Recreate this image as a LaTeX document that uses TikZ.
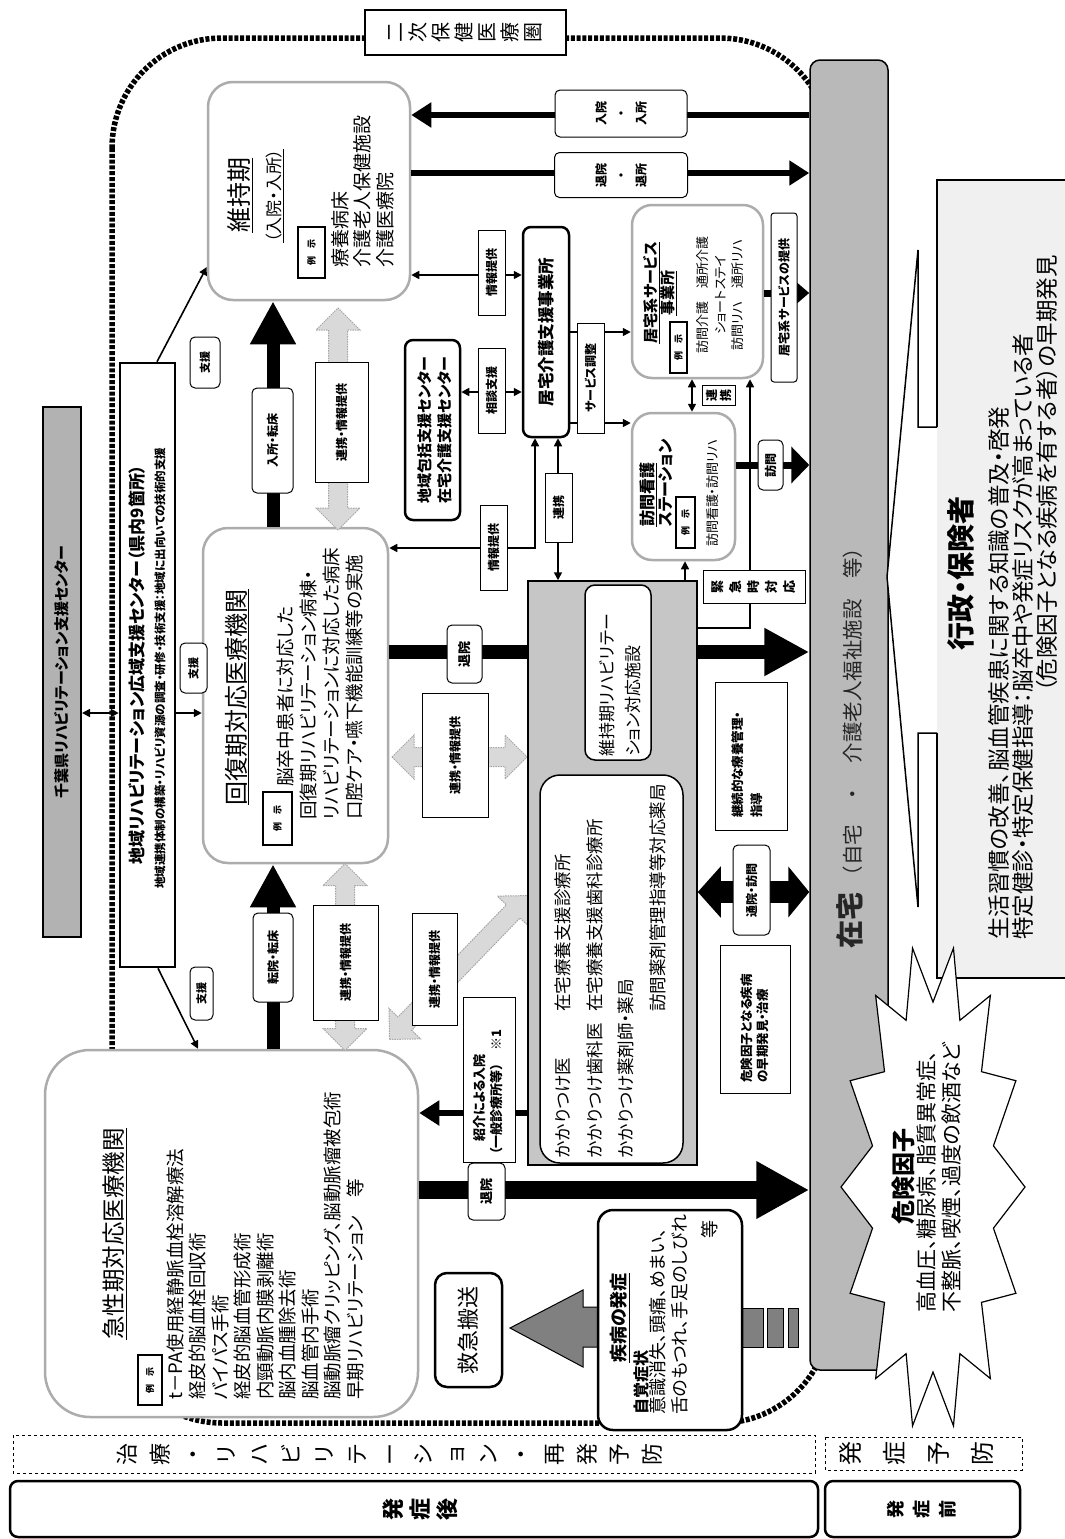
\documentclass[tikz,border=0pt]{standalone}
\usepackage{fontspec}
\setmainfont{Noto Sans CJK JP}[RawFeature=+palt]
\newfontfamily\jpmono{Noto Sans CJK JP}
\usetikzlibrary{arrows.meta}
\newcommand\fz[2]{\fontsize{#1}{#2}\selectfont}
\newcommand\gdarrow[4]{%
\begin{scope}[shift={(#1,#2)},rotate=#3]
\path[gar] ({-#4/2},0) -- ({-#4/2+22},-22) -- ({-#4/2+22},-9.5) -- ({#4/2-22},-9.5) -- ({#4/2-22},-22) -- ({#4/2},0) -- ({#4/2-22},22) -- ({#4/2-22},9.5) -- ({-#4/2+22},9.5) -- ({-#4/2+22},22) -- cycle;
\end{scope}}
\tikzset{
 box/.style={draw,fill=white,line width=1.2pt,align=center},
 gbox/.style={draw=gray!65,fill=white,line width=2.5pt},
 lab/.style={draw,fill=white,line width=1pt,align=center,font=\fz{12}{14}\bfseries},
 rlab/.style={lab,rounded corners=5pt},
 rei/.style={draw,fill=white,line width=1.2pt,font=\fz{9}{10}\bfseries},
 txt/.style={anchor=west,align=left,inner sep=0pt},
 con/.style={line width=1.6pt,-{Triangle[length=8pt,width=8pt]}},
 conb/.style={line width=1.6pt,{Triangle[length=8pt,width=8pt]}-{Triangle[length=8pt,width=8pt]}},
 mid/.style={line width=6pt,-{Triangle[length=20pt,width=24pt]}},
 beads/.style={line width=5.5pt,dash pattern=on 4pt off 1.8pt},
 gar/.style={fill=gray!30,draw=gray!70,line width=1pt,dash pattern=on 1.5pt off 1pt}
}
\begin{document}
\begin{tikzpicture}[x=1pt,y=-1pt,every node/.append style={rotate=90,inner sep=0.5pt}]
\useasboundingbox (0,0) rectangle (1065,1539);
\fill[white] (0,0) rectangle (1065,1539);

% boundary of secondary medical area
\draw[beads,rounded corners=110pt] (112,38) rectangle (830,1423);

% bottom row (left column of the original)
\node[box,rounded corners=8pt,line width=2.5pt,minimum width=56pt,minimum height=808pt] (post) at (414,1509) {};
\node[font=\jpmono\fz{22}{27}\bfseries,align=center] (postT) at (420,1509) {発\\症\\後};
\node[box,dashed,line width=1pt,minimum width=38pt,minimum height=802pt] (treat) at (414,1454) {};
\node[font=\jpmono\fz{22}{32.8},align=center] (treatT) at (390,1454) {治\\療\\・\\リ\\ハ\\ビ\\リ\\テ\\ー\\シ\\ョ\\ン\\・\\再\\発\\予\\防};
\node[box,rounded corners=8pt,line width=2.5pt,minimum width=56pt,minimum height=195pt] (pre) at (922.5,1509) {};
\node[font=\jpmono\fz{18}{26}\bfseries,align=center] (preT) at (922,1509) {発\\症\\前};
\node[box,dashed,line width=1pt,minimum width=33pt,minimum height=197pt] (prev) at (923.5,1453.5) {};
\node[font=\jpmono\fz{24}{44},align=center] (prevT) at (916,1453.5) {発\\症\\予\\防};

% label of the area
\node[box,line width=1.2pt,minimum width=45pt,minimum height=201pt] (niji) at (465.5,32.5) {};
\node[font=\jpmono\fz{20}{23},align=center] (nijiT) at (465,32.5) {二\\次\\保\\健\\医\\療\\圏};

% prefecture / region centres
\node[box,fill=gray!60,line width=2pt,minimum width=530pt,minimum height=38pt,font=\fz{15}{17}\bfseries] (chiba) at (62,672) {千葉県リハビリテーション支援センター};
\node[box,line width=2.5pt,minimum width=604pt,minimum height=55pt] (region) at (147.5,665) {};
\node[font=\fz{17}{20}\bfseries] (regT1) at (137,665) {地域リハビリテーション広域支援センター（県内9箇所）};
\node[font=\fz{11.5}{13}\bfseries] (regT2) at (160,668) {地域連携体制の構築・リハビリ資源の調査・研修・技術支援：地域に出向いての技術的支援};

% maintenance-phase institutions
\node[gbox,rounded corners=25pt,minimum width=218pt,minimum height=202pt] (ijiki) at (309,191) {};
\node[font=\fz{25}{28}] (ijikiT) at (240,195) {\underline{維持期}};
\node[font=\fz{17}{20}] (ijikiS) at (275,196) {\underline{（入院・入所）}};
\node[rei,minimum width=51pt,minimum height=27pt] (rei1) at (311.5,252.5) {例\hspace{8pt}示};
\node[txt,font=\fz{19}{22.5}] (ijikiL) at (362.5,268) {療養病床\\介護老人保健施設\\介護医療院};

% recovery-phase institutions
\node[gbox,rounded corners=25pt,minimum width=335pt,minimum height=185pt] (kaifuku) at (295.5,695.5) {};
\node[font=\fz{24}{27}] (kaiT) at (237,697) {\underline{回復期対応医療機関}};
\node[rei,minimum width=53pt,minimum height=29pt] (rei2) at (277.5,818.5) {例\hspace{8pt}示};
\node[txt,font=\fz{18.5}{23.3}] (kaiL) at (320,820) {\hspace*{33pt}脳卒中患者に対応した\\回復期リハビリテーション病棟・\\リハビリテーションに対応した病床\\口腔ケア・嚥下機能訓練等の実施};

% acute-phase institutions
\node[gbox,rounded corners=45pt,minimum width=367pt,minimum height=373pt] (kyusei) at (231.5,1233.5) {};
\node[font=\fz{23.5}{26}] (kyuT) at (115,1234) {\underline{急性期対応医療機関}};
\node[rei,minimum width=50pt,minimum height=24pt] (rei5) at (150,1380) {例\hspace{8pt}示};
\node[txt,font=\fz{18.5}{22.5}] (kyuL) at (265,1400) {t－PA使用経静脈血栓溶解療法\\経皮的脳血栓回収術\\バイパス手術\\経皮的脳血管形成術\\内頸動脈内膜剥離術\\脳内血腫除去術\\脳血管内手術\\脳動脈瘤クリッピング、脳動脈瘤被包術\\早期リハビリテーション　等};

% home bar
\node[draw,fill=gray!55,rounded corners=10pt,line width=1.5pt,minimum width=1310pt,minimum height=78pt] (bar) at (849,715) {};
\node[font=\jpmono\fz{20.5}{22},text=black!85] (barT) at (850,743) {{\fz{28}{30}\bfseries 在宅}\hspace{6pt}（自宅　・　介護老人福祉施設　等）};

% support arrows from the regional centre
\draw[conb] (chiba.south |- 0,713) -- (region.north |- 0,713);
\draw[con] (region.south |- 0,713) -- (kaifuku.north |- 0,713);
\draw[con] ([xshift=9.5pt]region.east) -- (ijiki.north |- 0,267);
\draw[con] ([xshift=10.5pt]region.west) -- (kyusei.east -| 198,0);
\node[rlab,font=\fz{11}{13}\bfseries,minimum width=51pt,minimum height=30pt] (s1) at (205,362.5) {支援};
\node[rlab,font=\fz{11}{13}\bfseries,minimum width=50pt,minimum height=27pt] (s2) at (193.5,668) {支援};
\node[rlab,font=\fz{11}{13}\bfseries,minimum width=53pt,minimum height=23pt] (s3) at (201.5,993.5) {支援};

% transfers between phases
\draw[line width=13pt,-{Triangle[length=43pt,width=43pt]}] (kyusei.east -| 273,0) -- (kaifuku.west -| 273,0);
\draw[line width=13pt,-{Triangle[length=43pt,width=43pt]}] (kaifuku.east -| 273,0) -- (ijiki.west -| 273,0);
\node[rlab,minimum width=89pt,minimum height=40pt] (tenin) at (273,957.5) {転院・転床};
\node[rlab,minimum width=105pt,minimum height=41pt] (nyusho) at (272.5,440.5) {入所・転床};

% cooperation arrows
\gdarrow{338}{419}{90}{222}
\gdarrow{345}{957}{90}{187}
\gdarrow{459.5}{757}{0}{135}
\gdarrow{459}{967.5}{46}{200}
\node[lab,minimum width=120pt,minimum height=53pt] (ren1) at (341.5,422) {連携・情報提供};
\node[lab,minimum width=115pt,minimum height=65pt] (ren2) at (345.5,962.5) {連携・情報提供};
\node[lab,minimum width=124pt,minimum height=66pt] (ren3) at (455,755) {連携・情報提供};
\node[lab,minimum width=112pt,minimum height=45pt] (ren4) at (434.5,969) {連携・情報提供};

% admission / discharge with maintenance phase
\draw[mid] (bar.north |- 0,115) -- (ijiki.south |- 0,115);
\draw[mid] (ijiki.south |- 0,173) -- (bar.north |- 0,173);
\node[rlab,minimum width=47pt,minimum height=132pt,font=\jpmono\fz{12}{20}\bfseries] (nyuin) at (621,113.5) {入院\\・\\入所};
\node[rlab,minimum width=45pt,minimum height=133pt,font=\jpmono\fz{12}{20}\bfseries] (taiin) at (621,175) {退院\\・\\退所};

% discharges to home
\draw[line width=14pt,-{Triangle[length=45pt,width=45pt]}] (kaifuku.south |- 0,652) -- (bar.north |- 0,652);
\draw[line width=18pt,-{Triangle[length=53pt,width=54pt]}] (kyusei.south |- 0,1190) -- (bar.north |- 0,1190);
\node[rlab,font=\fz{13}{15}\bfseries,minimum width=58pt,minimum height=35pt] (tai1) at (464.5,654) {退院};
\node[rlab,font=\fz{13}{15}\bfseries,minimum width=57pt,minimum height=37pt] (tai2) at (486.5,1191.5) {退院};

% community care container
\node[box,fill=gray!45,line width=1.5pt,minimum width=584pt,minimum height=169pt] (grayc) at (612.5,873) {};
\node[box,rounded corners=10pt,line width=1.5pt,minimum width=175pt,minimum height=66pt] (ijiri) at (618,672.5) {};
\node[txt,font=\fz{17}{26}] (ijiriT) at (620,757) {維持期リハビリテー\\ション対応施設};
\node[box,rounded corners=20pt,line width=1.5pt,minimum width=388pt,minimum height=143pt] (kakari) at (611.5,969) {};
\node[txt,font=\fz{17.5}{31.7}] (kakT) at (610.5,1158) {\makebox[146pt][l]{かかりつけ医}在宅療養支援診療所\\\makebox[146pt][l]{かかりつけ歯科医}在宅療養支援歯科診療所\\かかりつけ薬剤師・薬局\\\hspace*{146pt}訪問薬剤管理指導等対応薬局};

% referral admission
\draw[mid] (grayc.north |- 0,1113) -- (kyusei.south |- 0,1113);
\node[lab,minimum width=165pt,minimum height=52pt] (shokai) at (489,1079.5) {};
\node[txt,font=\fz{13}{17}\bfseries] (shokaiT) at (488.5,1155) {\hspace*{13pt}紹介による入院\\（一般診療所等）　※1};

% home visits
\draw[line width=22pt,{Triangle[length=23pt,width=50pt]}-{Triangle[length=21pt,width=50pt]}] (grayc.south |- 0,892) -- (bar.north |- 0,892);
\node[rlab,font=\fz{12}{14}\bfseries,minimum width=90pt,minimum height=37pt] (tsuin) at (751.5,890) {通院・訪問};
\node[lab,minimum width=148pt,minimum height=72pt] (keizoku) at (751,756) {};
\node[txt,font=\fz{12.5}{19}\bfseries] (keizokuT) at (747.5,818) {継続的な療養管理・\\指導};
\node[lab,minimum width=148pt,minimum height=70pt] (hakken) at (755,1019) {};
\node[txt,font=\fz{12.5}{16}\bfseries] (hakkenT) at (755,1083) {危険因子となる疾病\\の早期発見・治療};

% care managers
\node[box,rounded corners=8pt,line width=2.5pt,minimum width=210pt,minimum height=46pt,font=\fz{16.5}{18}\bfseries] (kyotaku) at (546,332) {居宅介護支援事業所};
\node[box,rounded corners=8pt,line width=2.5pt,minimum width=180pt,minimum height=55pt] (houkatsu) at (432.5,430) {};
\node[font=\fz{15}{20}\bfseries,align=left] (houkT) at (435,430) {地域包括支援センター\\在宅介護支援センター};

% home service providers
\node[gbox,rounded corners=20pt,minimum width=173pt,minimum height=131pt] (kyosvc) at (697.5,291.5) {};
\node[font=\fz{15}{16}\bfseries,align=center] (kyosvcT) at (660,293) {\underline{居宅系サービス}\\\underline{事業所}};
\node[rei,minimum width=51pt,minimum height=17pt] (rei3) at (678.5,347.5) {例\hspace{8pt}示};
\node[font=\fz{13}{17.5},align=center] (kyosvcL) at (720.5,295) {訪問介護　通所介護\\ショートステイ\\訪問リハ　通所リハ};
\node[gbox,rounded corners=20pt,minimum width=147pt,minimum height=103pt] (houkan) at (683.5,486.5) {};
\node[txt,font=\fz{16}{18}\bfseries] (houkanT) at (656,527) {\underline{訪問看護}\\ステーション};
\node[rei,minimum width=51pt,minimum height=19pt] (rei4) at (685.5,522.5) {例\hspace{8pt}示};
\node[txt,font=\fz{13}{15}] (houkanL) at (713,547) {訪問看護・訪問リハ};

% connectors among care managers and providers
\draw[conb] (houkatsu.south |- 0,392) -- (kyotaku.north |- 0,392);
\draw[conb] (ijiki.south |- 0,275) -- (kyotaku.north |- 0,275);
\draw[conb] (kaifuku.south |- 0,548) -| (kyotaku.west -| 535,0);
\draw[conb] (kyotaku.west -| 558,0) -- (grayc.east -| 558,0);
\draw[con] (kyotaku.south |- 0,332) -- (kyosvc.north |- 0,332);
\draw[con] (kyotaku.south |- 0,423) -- (houkan.north |- 0,423);
\draw[conb] (kyosvc.west -| 692,0) -- (houkan.east -| 692,0);
\draw[con] (grayc.south |- 0,628) -| (kyosvc.west -| 750,0);
\draw[con] (grayc.east -| 685,0) -- (houkan.west -| 685,0);
\draw[line width=7pt,-{Triangle[length=20pt,width=33pt]}] (kyosvc.south |- 0,293) -- (bar.north |- 0,293);
\draw[line width=7pt,-{Triangle[length=18pt,width=36pt]}] (houkan.south |- 0,465) -- (bar.north |- 0,465);
\node[lab,minimum width=85pt,minimum height=27pt] (sodan) at (491.5,390.5) {相談支援};
\node[lab,minimum width=85pt,minimum height=27pt] (joho1) at (491.5,272.5) {情報提供};
\node[lab,minimum width=85pt,minimum height=27pt] (joho2) at (493.5,547.5) {情報提供};
\node[lab,minimum width=69pt,minimum height=27pt] (renkei1) at (558.5,507.5) {連携};
\node[lab,minimum width=110pt,minimum height=27pt] (svc) at (590.5,378) {サービス調整};
\node[lab,font=\jpmono\fz{12}{14}\bfseries,minimum width=20pt,minimum height=33pt] (renkei2) at (718.5,395) {連\\携};
\node[lab,rounded corners=3pt,minimum width=169pt,minimum height=26pt] (teikyo) at (784,297.5) {居宅系サービスの提供};
\node[rlab,minimum width=50pt,minimum height=25pt] (homon) at (770.5,465) {訪問};
\node[lab,font=\jpmono\fz{13}{18}\bfseries,minimum width=33pt,minimum height=102pt] (kinkyu) at (754,586.5) {緊\\急\\時\\対\\応};

% administration box with pointer
\path[fill=gray!12,draw,line width=1.5pt] (937,427) -- (937,180) -- (1080,180) -- (1080,978) -- (937,978) -- (937,733);
\path[fill=white,draw,line width=1.5pt] (937,427) -- (918,427) -- (918,250) -- (887,577) -- (918,907) -- (918,733) -- (937,733);
\node[font=\fz{28}{30}\bfseries] (gyoseiT) at (961,573) {行政・保険者};
\node[txt,font=\fz{22.5}{24}] (gyoseiL) at (1023,940) {生活習慣の改善、脳血管疾患に関する知識の普及・啓発\\特定健診・特定保健指導：脳卒中や発症リスクが高まっている者\\\hspace*{11em}（危険因子となる疾病を有する者）の早期発見};

% risk factors burst
\filldraw[fill=white,line width=1.2pt] plot[samples at={0,...,27},variable=\i] ({933+(mod(\i,2)==0?92:62)*cos(\i*360/28)},{1187+(mod(\i,2)==0?245:185)*sin(\i*360/28)}) -- cycle;
\node[font=\fz{24}{26}\bfseries] (kikenT) at (903,1176) {危険因子};
\node[txt,font=\fz{21}{25}] (kikenL) at (939.5,1313) {高血圧、糖尿病、脂質異常症、\\不整脈、喫煙、過度の飲酒など};

% onset and emergency transport
\filldraw[fill=gray,line width=1pt] (598,1307) -- (583,1307) -- (583,1290) -- (510,1328) -- (583,1367) -- (583,1347) -- (598,1347) -- cycle;
\filldraw[fill=gray,line width=1pt] (742,1308) rectangle (763,1347);
\filldraw[fill=gray,line width=1pt] (767,1308) rectangle (783,1347);
\filldraw[fill=gray,line width=1pt] (788,1308) rectangle (798,1347);
\node[box,rounded corners=12pt,line width=2.5pt,minimum width=114pt,minimum height=67pt,font=\fz{22}{24}] (kyukyu) at (468.5,1330) {救急搬送};
\node[box,rounded corners=15pt,line width=2.5pt,minimum width=220pt,minimum height=144pt] (hassho) at (670,1320) {};
\node[font=\fz{18}{20}\bfseries] (hassT1) at (620,1318) {\underline{疾病の発症}};
\node[txt,font=\fz{16}{18}\bfseries] (hassT2) at (641,1415) {自覚症状};
\node[txt,font=\fz{18}{22}] (hassT3) at (669,1415) {意識消失、頭痛、めまい、\\舌のもつれ、手足のしびれ};
\node[font=\fz{18}{20}] (hassT4) at (710,1229) {等};
\end{tikzpicture}
\end{document}
